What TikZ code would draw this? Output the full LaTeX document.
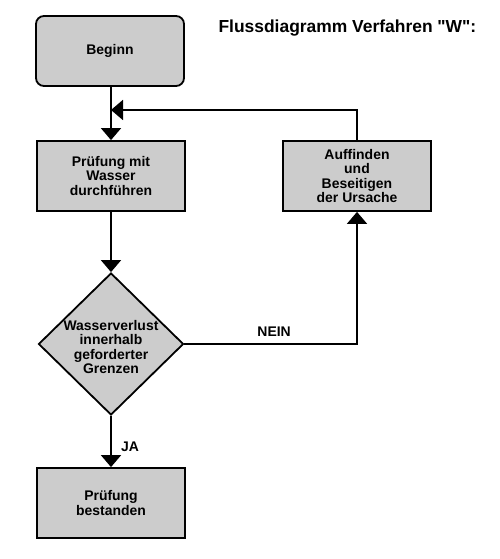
\documentclass[tikz,border=0pt]{standalone}
\usepackage{fontspec}
\setmainfont{Liberation Sans}
\newfontfamily\titelfont{Liberation Sans}
\usetikzlibrary{arrows.meta,shapes.geometric}
\definecolor{boxgray}{HTML}{CCCCCC}
\begin{document}
\begin{tikzpicture}[>={Triangle[width=20bp,length=12bp]},line join=miter,
  every node/.style={font=\bfseries\fontsize{14}{14.5}\selectfont,align=center},
  kasten/.style={draw=black,line width=1.8bp,fill=boxgray,minimum width=148bp,minimum height=70bp,inner sep=2bp},
  raute/.style={diamond,draw=black,line width=1.8bp,fill=boxgray,minimum width=145bp,minimum height=142bp,inner sep=-4bp},
  pfeil/.style={black,line width=1.8bp,->},
]
\useasboundingbox (0bp,0bp) rectangle (500bp,559bp);
%%
\node (titel) at (215bp,526bp) [anchor=base west,font=\titelfont\bfseries\fontsize{17.5}{20}\selectfont] {Flussdiagramm Verfahren "W":};
  \node (beginn) at (110bp,508bp) [kasten,rounded corners=8bp] {Beginn};
  \node (pruefen) at (111bp,383bp) [kasten] {Prüfung mit\\Wasser\\durchführen};
  \node (verlust) at (111bp,215bp) [raute] {\rule{0pt}{16bp}Wasserverlust\\innerhalb\\geforderter\\Grenzen};
  \node (bestanden) at (111bp,56bp) [kasten] {Prüfung\\bestanden};
  \node (auffinden) at (357bp,383bp) [kasten] {Auffinden\\und\\Beseitigen\\der Ursache};
  \coordinate (einmuendung) at (111bp,449bp);
  \draw [pfeil] (pruefen.north |- beginn.south) -- (pruefen.north);
  \draw [pfeil] (pruefen) -- (verlust);
  \draw [pfeil] (verlust) -- node[pos=0.69,anchor=base west,xshift=6bp] (ja) {JA} (bestanden);
  \draw [pfeil] (verlust.east) -| node[pos=0.26,anchor=base,yshift=7bp] (nein) {NEIN} (auffinden.south);
  \draw [pfeil] (auffinden.north) |- (einmuendung);
%
\end{tikzpicture}
\end{document}
